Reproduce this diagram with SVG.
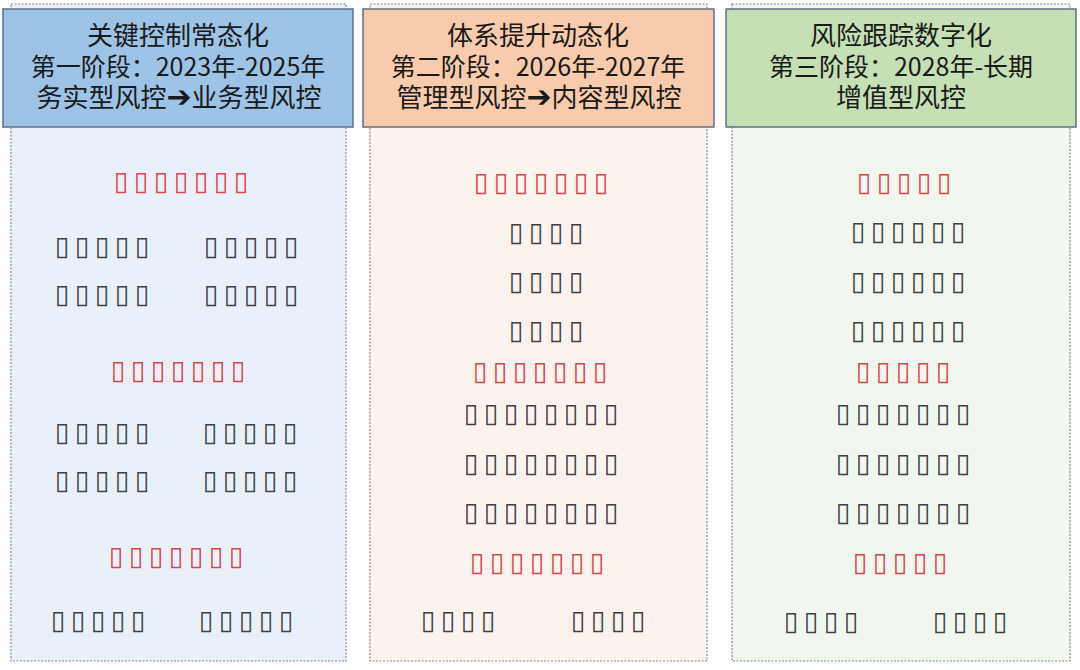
<svg xmlns="http://www.w3.org/2000/svg" width="1080" height="670" viewBox="0 0 1080 670">
<style>
.hd{stroke:#5f6f88;stroke-width:1.5}
.body{stroke:#8a8a8a;stroke-width:1.2;stroke-dasharray:2 1.5}
.ht{font-family:"Noto Sans CJK SC","Noto Sans",sans-serif;font-size:25px;fill:#1a1a1a;text-anchor:middle}
.big{font-size:26px}
.arr{font-family:"DejaVu Sans",sans-serif;font-size:30px}
.b{font-family:"DejaVu Sans",sans-serif;font-size:26.5px;text-anchor:middle;dominant-baseline:central}
.r{fill:#d9474c}
.d{fill:#3c3f45}
</style>
<rect width="1080" height="670" fill="#ffffff"/>
<g id="col1">
<rect class="body" x="11" y="4" width="335" height="657" fill="#eaf0fa"/>
<rect class="hd" x="3" y="9" width="350" height="118" fill="#9dc3e6"/>
<text class="ht big" x="178" y="45">关键控制常态化</text>
<text class="ht" x="178" y="76">第一阶段：2023年-2025年</text>
<text class="ht big" x="179" y="107">务实型风控<tspan class="arr">➔</tspan>业务型风控</text>
<text class="b r" x="121 141 161 181 201 221 241" y="180">▯▯▯▯▯▯▯</text>
<text class="b d" x="62 82 102 122 142" y="245">▯▯▯▯▯</text>
<text class="b d" x="211 231 251 271 291" y="245">▯▯▯▯▯</text>
<text class="b d" x="62 82 102 122 142" y="293">▯▯▯▯▯</text>
<text class="b d" x="211 231 251 271 291" y="293">▯▯▯▯▯</text>
<text class="b r" x="118 138 158 178 198 218 238" y="369">▯▯▯▯▯▯▯</text>
<text class="b d" x="62 82 102 122 142" y="431">▯▯▯▯▯</text>
<text class="b d" x="210 230 250 270 290" y="431">▯▯▯▯▯</text>
<text class="b d" x="62 82 102 122 142" y="479">▯▯▯▯▯</text>
<text class="b d" x="210 230 250 270 290" y="479">▯▯▯▯▯</text>
<text class="b r" x="116 136 156 176 196 216 236" y="555">▯▯▯▯▯▯▯</text>
<text class="b d" x="58 78 98 118 138" y="619">▯▯▯▯▯</text>
<text class="b d" x="206 226 246 266 286" y="619">▯▯▯▯▯</text>
</g>
<g id="col2">
<rect class="body" x="370" y="4" width="337" height="657" fill="#fdf3ee"/>
<rect class="hd" x="363" y="9" width="351" height="118" fill="#f8cbad"/>
<text class="ht big" x="538" y="45">体系提升动态化</text>
<text class="ht" x="538" y="76">第二阶段：2026年-2027年</text>
<text class="ht big" x="539" y="107">管理型风控<tspan class="arr">➔</tspan>内容型风控</text>
<text class="b r" x="481 501 521 541 561 581 601" y="181">▯▯▯▯▯▯▯</text>
<text class="b d" x="516 536 556 576" y="231">▯▯▯▯</text>
<text class="b d" x="516 536 556 576" y="280">▯▯▯▯</text>
<text class="b d" x="516 536 556 576" y="329">▯▯▯▯</text>
<text class="b r" x="480 500 520 540 560 580 600" y="370">▯▯▯▯▯▯▯</text>
<text class="b d" x="471 491 511 531 551 571 591 611" y="412">▯▯▯▯▯▯▯▯</text>
<text class="b d" x="471 491 511 531 551 571 591 611" y="462">▯▯▯▯▯▯▯▯</text>
<text class="b d" x="471 491 511 531 551 571 591 611" y="511">▯▯▯▯▯▯▯▯</text>
<text class="b r" x="477 497 517 537 557 577 597" y="561">▯▯▯▯▯▯▯</text>
<text class="b d" x="428 448 468 488" y="619">▯▯▯▯</text>
<text class="b d" x="578 598 618 638" y="619">▯▯▯▯</text>
</g>
<g id="col3">
<rect class="body" x="732" y="4" width="338" height="657" fill="#f1f7ee"/>
<rect class="hd" x="726" y="9" width="350" height="118" fill="#c5e0b4"/>
<text class="ht big" x="901" y="45">风险跟踪数字化</text>
<text class="ht" x="901" y="76">第三阶段：2028年-长期</text>
<text class="ht big" x="901" y="107">增值型风控</text>
<text class="b r" x="864 884 904 924 944" y="181">▯▯▯▯▯</text>
<text class="b d" x="858 878 898 918 938 958" y="230">▯▯▯▯▯▯</text>
<text class="b d" x="858 878 898 918 938 958" y="280">▯▯▯▯▯▯</text>
<text class="b d" x="858 878 898 918 938 958" y="329">▯▯▯▯▯▯</text>
<text class="b r" x="863 883 903 923 943" y="370">▯▯▯▯▯</text>
<text class="b d" x="843 863 883 903 923 943 963" y="412">▯▯▯▯▯▯▯</text>
<text class="b d" x="843 863 883 903 923 943 963" y="462">▯▯▯▯▯▯▯</text>
<text class="b d" x="843 863 883 903 923 943 963" y="511">▯▯▯▯▯▯▯</text>
<text class="b r" x="860 880 900 920 940" y="561">▯▯▯▯▯</text>
<text class="b d" x="791 811 831 851" y="620">▯▯▯▯</text>
<text class="b d" x="940 960 980 1000" y="620">▯▯▯▯</text>
</g>
</svg>
